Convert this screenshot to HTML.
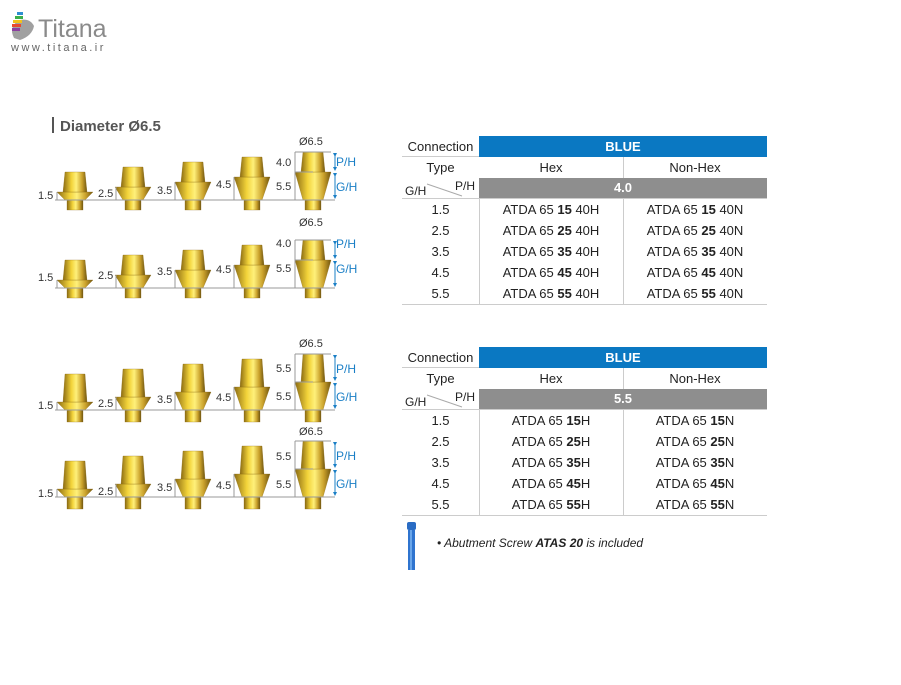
<!DOCTYPE html>
<html><head><meta charset="utf-8"><style>
body{margin:0;width:901px;height:685px;background:#fff;position:relative;overflow:hidden;font-family:"Liberation Sans",sans-serif;color:#222}
.a{position:absolute}
.t{position:absolute;left:402px;width:365px;font-size:13px}
.t .r{position:relative;height:21px;line-height:21px}
.c{position:absolute;top:0;height:21px;text-align:center}
.c1{left:0;width:77px}.c2{left:77px;width:144px}.c3{left:221px;width:144px}
.blue{background:#0a78c2;color:#fff;font-weight:bold}
.gray{background:#8e8e8e;color:#fff;font-weight:bold}
.vl{position:absolute;top:0;bottom:0;width:1px;background:#ccc}
</style></head><body>
<svg class="a" style="left:0;top:0" width="901" height="685">
<defs>
<linearGradient id="g" x1="0" x2="1"><stop offset="0" stop-color="#8a6a12"/><stop offset=".35" stop-color="#f2d33a"/><stop offset=".55" stop-color="#fff07a"/><stop offset=".8" stop-color="#c9a02a"/><stop offset="1" stop-color="#6e5410"/></linearGradient>
<marker id="ar" markerWidth="4" markerHeight="4" refX="2" refY="2" orient="auto" markerUnits="userSpaceOnUse"><path d="M0,0 L4,2 L0,4 Z" fill="#1a7fc6"/></marker>
</defs>
<g>
<path d="M14,38 Q8,26 20,20 Q30,18 34,26 Q32,36 20,40 Z" fill="#a0a0a0"/>
<rect x="17" y="12" width="6" height="3" fill="#2e8fd0"/><rect x="15" y="16" width="8" height="3" fill="#3cb04a"/><rect x="13" y="20" width="9" height="3" fill="#f2c21a"/><rect x="12" y="24" width="9" height="3" fill="#e8492f"/><rect x="12" y="28" width="8" height="3" fill="#8c3fa0"/>
<text x="38" y="37" font-size="25" fill="#8a8a8a" font-family="Liberation Sans">Titana</text>
<text x="11" y="51" font-size="11" fill="#666" letter-spacing="2.5" font-family="Liberation Sans">www.titana.ir</text>
</g>
<rect x="52" y="117" width="2" height="16" fill="#555"/>
<text x="60" y="131" font-size="15" font-weight="bold" fill="#555">Diameter Ø6.5</text>

<g fill="url(#g)" stroke="#8a6a12" stroke-width=".3">
<g transform="translate(75,200)"><rect x="-8" y="0" width="16" height="10"/><path d="M-18,-8 L18,-8 L10,0 L-10,0Z"/><path d="M-12,-8 L12,-8 L10,-28 L-10,-28Z"/></g>
<g transform="translate(133,200)"><rect x="-8" y="0" width="16" height="10"/><path d="M-18,-13 L18,-13 L10,0 L-10,0Z"/><path d="M-12,-13 L12,-13 L10,-33 L-10,-33Z"/></g>
<g transform="translate(193,200)"><rect x="-8" y="0" width="16" height="10"/><path d="M-18,-18 L18,-18 L10,0 L-10,0Z"/><path d="M-12,-18 L12,-18 L10,-38 L-10,-38Z"/></g>
<g transform="translate(252,200)"><rect x="-8" y="0" width="16" height="10"/><path d="M-18,-23 L18,-23 L10,0 L-10,0Z"/><path d="M-12,-23 L12,-23 L10,-43 L-10,-43Z"/></g>
<g transform="translate(313,200)"><rect x="-8" y="0" width="16" height="10"/><path d="M-18,-28 L18,-28 L10,0 L-10,0Z"/><path d="M-12,-28 L12,-28 L10,-48 L-10,-48Z"/></g>
<g transform="translate(75,288)"><rect x="-8" y="0" width="16" height="10"/><path d="M-18,-8 L18,-8 L10,0 L-10,0Z"/><path d="M-12,-8 L12,-8 L10,-28 L-10,-28Z"/></g>
<g transform="translate(133,288)"><rect x="-8" y="0" width="16" height="10"/><path d="M-18,-13 L18,-13 L10,0 L-10,0Z"/><path d="M-12,-13 L12,-13 L10,-33 L-10,-33Z"/></g>
<g transform="translate(193,288)"><rect x="-8" y="0" width="16" height="10"/><path d="M-18,-18 L18,-18 L10,0 L-10,0Z"/><path d="M-12,-18 L12,-18 L10,-38 L-10,-38Z"/></g>
<g transform="translate(252,288)"><rect x="-8" y="0" width="16" height="10"/><path d="M-18,-23 L18,-23 L10,0 L-10,0Z"/><path d="M-12,-23 L12,-23 L10,-43 L-10,-43Z"/></g>
<g transform="translate(313,288)"><rect x="-8" y="0" width="16" height="10"/><path d="M-18,-28 L18,-28 L10,0 L-10,0Z"/><path d="M-12,-28 L12,-28 L10,-48 L-10,-48Z"/></g>
<g transform="translate(75,410)"><rect x="-8" y="0" width="16" height="12"/><path d="M-18,-8 L18,-8 L10,0 L-10,0Z"/><path d="M-12,-8 L12,-8 L10,-36 L-10,-36Z"/></g>
<g transform="translate(133,410)"><rect x="-8" y="0" width="16" height="12"/><path d="M-18,-13 L18,-13 L10,0 L-10,0Z"/><path d="M-12,-13 L12,-13 L10,-41 L-10,-41Z"/></g>
<g transform="translate(193,410)"><rect x="-8" y="0" width="16" height="12"/><path d="M-18,-18 L18,-18 L10,0 L-10,0Z"/><path d="M-12,-18 L12,-18 L10,-46 L-10,-46Z"/></g>
<g transform="translate(252,410)"><rect x="-8" y="0" width="16" height="12"/><path d="M-18,-23 L18,-23 L10,0 L-10,0Z"/><path d="M-12,-23 L12,-23 L10,-51 L-10,-51Z"/></g>
<g transform="translate(313,410)"><rect x="-8" y="0" width="16" height="12"/><path d="M-18,-28 L18,-28 L10,0 L-10,0Z"/><path d="M-12,-28 L12,-28 L10,-56 L-10,-56Z"/></g>
<g transform="translate(75,497)"><rect x="-8" y="0" width="16" height="12"/><path d="M-18,-8 L18,-8 L10,0 L-10,0Z"/><path d="M-12,-8 L12,-8 L10,-36 L-10,-36Z"/></g>
<g transform="translate(133,497)"><rect x="-8" y="0" width="16" height="12"/><path d="M-18,-13 L18,-13 L10,0 L-10,0Z"/><path d="M-12,-13 L12,-13 L10,-41 L-10,-41Z"/></g>
<g transform="translate(193,497)"><rect x="-8" y="0" width="16" height="12"/><path d="M-18,-18 L18,-18 L10,0 L-10,0Z"/><path d="M-12,-18 L12,-18 L10,-46 L-10,-46Z"/></g>
<g transform="translate(252,497)"><rect x="-8" y="0" width="16" height="12"/><path d="M-18,-23 L18,-23 L10,0 L-10,0Z"/><path d="M-12,-23 L12,-23 L10,-51 L-10,-51Z"/></g>
<g transform="translate(313,497)"><rect x="-8" y="0" width="16" height="12"/><path d="M-18,-28 L18,-28 L10,0 L-10,0Z"/><path d="M-12,-28 L12,-28 L10,-56 L-10,-56Z"/></g>
</g>
<g stroke="#999" stroke-width="1" fill="none">
<line x1="55" y1="200" x2="335" y2="200"/><line x1="55" y1="288" x2="335" y2="288"/><line x1="55" y1="410" x2="335" y2="410"/><line x1="55" y1="497" x2="335" y2="497"/>
<path d="M57,192v8 M116,187v13 M175,182v18 M234,177v23 M295,152v48 M295,172h18 M295,152h36"/>
<path d="M57,280v8 M116,275v13 M175,270v18 M234,265v23 M295,240v48 M295,260h18 M295,240h36"/>
<path d="M57,402v8 M116,397v13 M175,392v18 M234,387v23 M295,354v56 M295,382h18 M295,354h36"/>
<path d="M57,489v8 M116,484v13 M175,479v18 M234,474v23 M295,441v56 M295,469h18 M295,441h36"/>
</g>
<g font-size="11" fill="#333">
<text x="38" y="199">1.5</text><text x="98" y="197">2.5</text><text x="157" y="194">3.5</text><text x="216" y="188">4.5</text><text x="276" y="166">4.0</text><text x="276" y="190">5.5</text><text x="299" y="145">Ø6.5</text>
<text x="38" y="281">1.5</text><text x="98" y="279">2.5</text><text x="157" y="275">3.5</text><text x="216" y="273">4.5</text><text x="276" y="247">4.0</text><text x="276" y="272">5.5</text><text x="299" y="226">Ø6.5</text>
<text x="38" y="409">1.5</text><text x="98" y="407">2.5</text><text x="157" y="403">3.5</text><text x="216" y="401">4.5</text><text x="276" y="372">5.5</text><text x="276" y="400">5.5</text><text x="299" y="347">Ø6.5</text>
<text x="38" y="497">1.5</text><text x="98" y="495">2.5</text><text x="157" y="491">3.5</text><text x="216" y="489">4.5</text><text x="276" y="460">5.5</text><text x="276" y="488">5.5</text><text x="299" y="435">Ø6.5</text>
</g>
<g stroke="#1a7fc6" stroke-width="1" marker-start="url(#ar)" marker-end="url(#ar)">
<line x1="335" y1="155" x2="335" y2="169"/><line x1="335" y1="175" x2="335" y2="197"/>
<line x1="335" y1="243" x2="335" y2="257"/><line x1="335" y1="263" x2="335" y2="285"/>
<line x1="335" y1="357" x2="335" y2="379"/><line x1="335" y1="385" x2="335" y2="407"/>
<line x1="335" y1="444" x2="335" y2="466"/><line x1="335" y1="472" x2="335" y2="494"/>
</g>
<g font-size="12" fill="#1a7fc6">
<text x="336" y="166">P/H</text><text x="336" y="191">G/H</text>
<text x="336" y="248">P/H</text><text x="336" y="273">G/H</text>
<text x="336" y="373">P/H</text><text x="336" y="401">G/H</text>
<text x="336" y="460">P/H</text><text x="336" y="488">G/H</text>
</g>
<rect x="407" y="522" width="9" height="8" rx="2" fill="#2a6cc4"/><rect x="408" y="530" width="7" height="40" fill="#2f74cf"/><rect x="410" y="530" width="2" height="40" fill="#6aa6ea"/>
<text x="437" y="547" font-size="12" font-style="italic" fill="#222">•  Abutment Screw <tspan font-weight="bold">ATAS 20</tspan> is included</text>
</svg>

<div class="t" style="top:136px">
<div class="r"><div class="c c1" style="border-bottom:1px solid #ccc;height:20px">Connection</div><div class="c blue" style="left:77px;width:288px">BLUE</div></div>
<div class="r"><div class="c c1">Type</div><div class="c c2">Hex</div><div class="c c3">Non-Hex</div><div class="vl" style="left:221px"></div></div>
<div class="r" style="border-bottom:1px solid #ccc;height:20px"><div class="c c1" style="height:20px"><svg width="77" height="20" class="a" style="left:0;top:0"><line x1="25" y1="6" x2="60" y2="18" stroke="#aaa"/><text x="3" y="17" font-size="12" fill="#222">G/H</text><text x="53" y="12" font-size="12" fill="#222">P/H</text></svg></div><div class="c gray" style="left:77px;width:288px;height:20px;line-height:20px">4.0</div></div>
<div style="position:relative;border-bottom:1px solid #ccc">
<div class="vl" style="left:77px"></div><div class="vl" style="left:221px"></div>
<div class="r"><div class="c c1">1.5</div><div class="c c2">ATDA 65 <b>15</b> 40H</div><div class="c c3">ATDA 65 <b>15</b> 40N</div></div>
<div class="r"><div class="c c1">2.5</div><div class="c c2">ATDA 65 <b>25</b> 40H</div><div class="c c3">ATDA 65 <b>25</b> 40N</div></div>
<div class="r"><div class="c c1">3.5</div><div class="c c2">ATDA 65 <b>35</b> 40H</div><div class="c c3">ATDA 65 <b>35</b> 40N</div></div>
<div class="r"><div class="c c1">4.5</div><div class="c c2">ATDA 65 <b>45</b> 40H</div><div class="c c3">ATDA 65 <b>45</b> 40N</div></div>
<div class="r"><div class="c c1">5.5</div><div class="c c2">ATDA 65 <b>55</b> 40H</div><div class="c c3">ATDA 65 <b>55</b> 40N</div></div>
</div></div>

<div class="t" style="top:347px">
<div class="r"><div class="c c1" style="border-bottom:1px solid #ccc;height:20px">Connection</div><div class="c blue" style="left:77px;width:288px">BLUE</div></div>
<div class="r"><div class="c c1">Type</div><div class="c c2">Hex</div><div class="c c3">Non-Hex</div><div class="vl" style="left:221px"></div></div>
<div class="r" style="border-bottom:1px solid #ccc;height:20px"><div class="c c1" style="height:20px"><svg width="77" height="20" class="a" style="left:0;top:0"><line x1="25" y1="6" x2="60" y2="18" stroke="#aaa"/><text x="3" y="17" font-size="12" fill="#222">G/H</text><text x="53" y="12" font-size="12" fill="#222">P/H</text></svg></div><div class="c gray" style="left:77px;width:288px;height:20px;line-height:20px">5.5</div></div>
<div style="position:relative;border-bottom:1px solid #ccc">
<div class="vl" style="left:77px"></div><div class="vl" style="left:221px"></div>
<div class="r"><div class="c c1">1.5</div><div class="c c2">ATDA 65 <b>15</b>H</div><div class="c c3">ATDA 65 <b>15</b>N</div></div>
<div class="r"><div class="c c1">2.5</div><div class="c c2">ATDA 65 <b>25</b>H</div><div class="c c3">ATDA 65 <b>25</b>N</div></div>
<div class="r"><div class="c c1">3.5</div><div class="c c2">ATDA 65 <b>35</b>H</div><div class="c c3">ATDA 65 <b>35</b>N</div></div>
<div class="r"><div class="c c1">4.5</div><div class="c c2">ATDA 65 <b>45</b>H</div><div class="c c3">ATDA 65 <b>45</b>N</div></div>
<div class="r"><div class="c c1">5.5</div><div class="c c2">ATDA 65 <b>55</b>H</div><div class="c c3">ATDA 65 <b>55</b>N</div></div>
</div></div>
</body></html>
